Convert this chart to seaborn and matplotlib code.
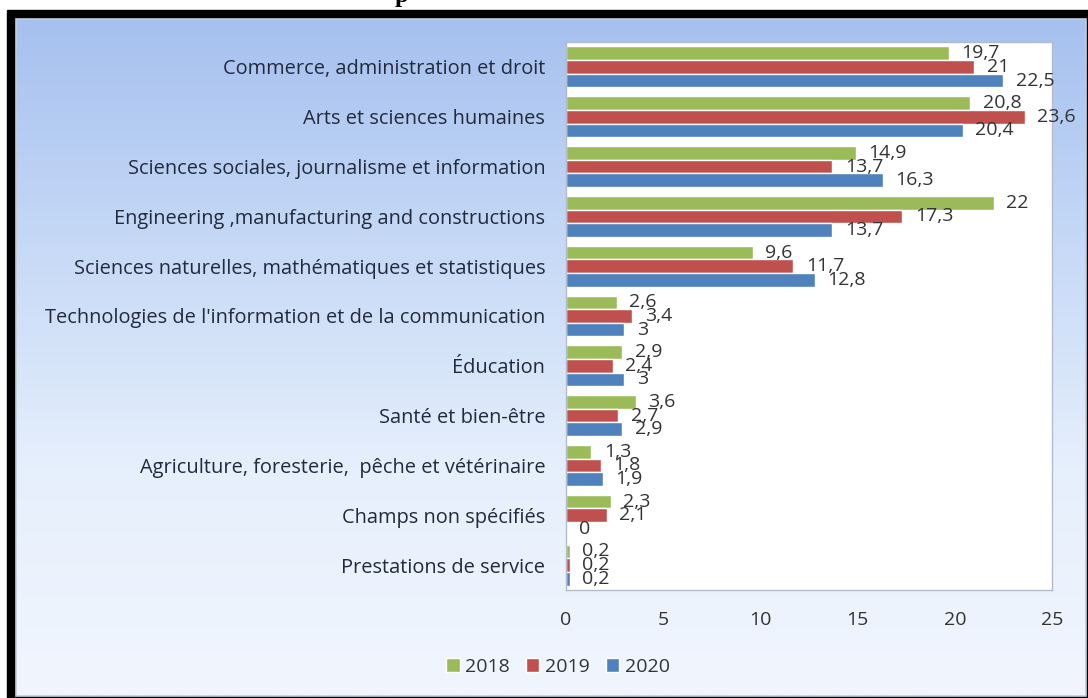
import numpy as np
import pandas as pd
import matplotlib
matplotlib.use("Agg")
import matplotlib.pyplot as plt
import seaborn as sns
from matplotlib.patches import Rectangle
from matplotlib.colors import LinearSegmentedColormap

categories = [
    "Commerce, administration et droit",
    "Arts et sciences humaines",
    "Sciences sociales, journalisme et information",
    "Engineering ,manufacturing and constructions",
    "Sciences naturelles, mathématiques et statistiques",
    "Technologies de l'information et de la communication",
    "Éducation",
    "Santé et bien-être",
    "Agriculture, foresterie,  pêche et vétérinaire",
    "Champs non spécifiés",
    "Prestations de service",
]
years = ["2018", "2019", "2020"]
v2018 = [19.7, 20.8, 14.9, 22, 9.6, 2.6, 2.9, 3.6, 1.3, 2.3, 0.2]
v2019 = [21, 23.6, 13.7, 17.3, 11.7, 3.4, 2.4, 2.7, 1.8, 2.1, 0.2]
v2020 = [22.5, 20.4, 16.3, 13.7, 12.8, 3, 3, 2.9, 1.9, 0, 0.2]
x_ticks = [0, 5, 10, 15, 20, 25]
colors = ["#9bbb59", "#c0504d", "#4f81bd"]

series = {"2018": v2018, "2019": v2019, "2020": v2020}
df = pd.DataFrame(
    [(c, y, v) for y in years for c, v in zip(categories, series[y])],
    columns=["category", "year", "value"],
)

sns.set_theme(style="white")
plt.rcParams["font.family"] = ["Open Sans", "DejaVu Sans"]

W, H = 1088, 698
fig = plt.figure(figsize=(W / 100, H / 100), dpi=100)

# background panel
bg = fig.add_axes([0, 0, 1, 1], zorder=-10)
bg.axis("off")
bg.add_patch(Rectangle((0, 0), W, H, color="white", zorder=0))
bg.add_patch(Rectangle((7, 10), W - 7, H - 10, color="black", zorder=1))
grad = np.linspace(0, 1, 256).reshape(-1, 1)
cmap = LinearSegmentedColormap.from_list("g", ["#a6c0ef", "#c6d9f6", "#e6effc", "#f1f6fe"])
bg.imshow(grad, cmap=cmap, extent=(16, 1086, 696, 19), aspect="auto",
          interpolation="bilinear", zorder=2)
bg.add_patch(Rectangle((16, 19), 1070, 677, fill=False, ec="#c4ccd8", lw=1.2, zorder=3))
bg.set_xlim(0, W)
bg.set_ylim(H, 0)

# title fragment (cut off at top)
fig.text(402 / W, 1 - 2 / H, "p", fontsize=18, fontweight="bold",
         family="Liberation Serif", ha="center", va="baseline", color="black")

ax = fig.add_axes([566 / W, 1 - 590 / H, 486 / W, 548 / H])
sns.barplot(data=df, x="value", y="category", hue="year", palette=colors,
            orient="h", width=0.82, saturation=1, ax=ax, errorbar=None)
ax.set_facecolor("white")
ax.set_xlim(0, 25)
ax.set_ylim(10.5, -0.5)
ax.set_xticks(x_ticks)
ax.set_xlabel("")
ax.set_ylabel("")
ax.tick_params(axis="x", labelsize=14, colors="#333333", pad=15, length=0)
ax.tick_params(axis="y", labelsize=14.4, colors="#222b3d", pad=15, length=0)
for s in ax.spines.values():
    s.set_color("#b3bccb")
    s.set_linewidth(1)

def fmt(v):
    if float(v).is_integer():
        return str(int(v))
    return f"{v}".replace(".", ",")

for cont, y in zip(ax.containers, years):
    ax.bar_label(cont, labels=[fmt(v) for v in series[y]], padding=9,
                 fontsize=14, color="#333333")

handles, labels = ax.get_legend_handles_labels()
if ax.get_legend() is not None:
    ax.get_legend().remove()
fig.legend(handles, labels, loc="center", bbox_to_anchor=(558 / W, 1 - 667 / H),
           ncol=3, frameon=False, handlelength=0.7, handleheight=0.7,
           handletextpad=0.3, columnspacing=0.8, fontsize=14,
           labelcolor="#333333")

fig.savefig("out.png", dpi=100)
